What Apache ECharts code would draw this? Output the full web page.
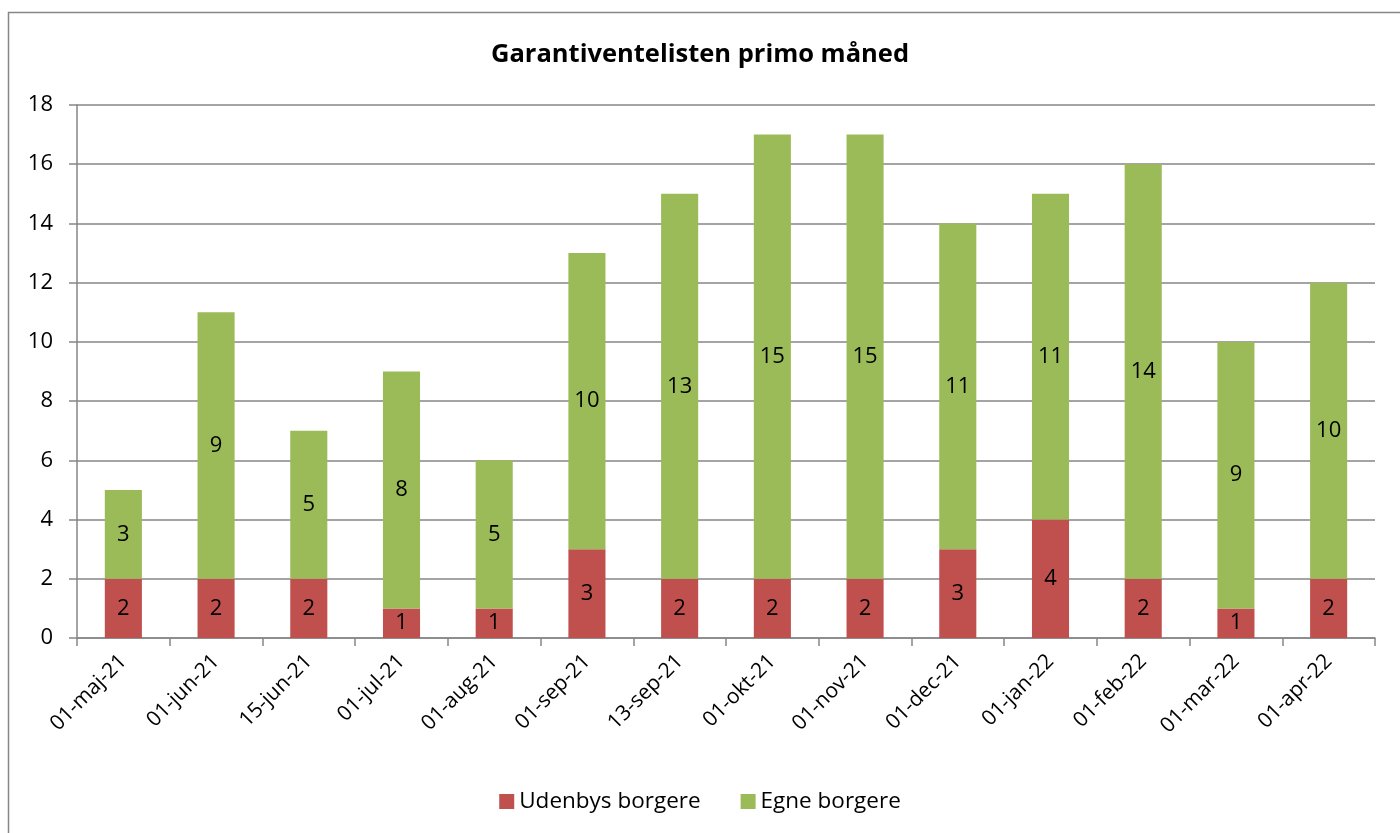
<!DOCTYPE html>
<html><head><meta charset="utf-8">
<script src="https://cdn.jsdelivr.net/npm/echarts@6/dist/echarts.min.js"></script>
<style>html,body{margin:0;padding:0;background:#fff}#c{width:1400px;height:833px}</style>
</head><body><div id="c"></div>
<script>
const categories = ['01-maj-21','01-jun-21','15-jun-21','01-jul-21','01-aug-21','01-sep-21','13-sep-21','01-okt-21','01-nov-21','01-dec-21','01-jan-22','01-feb-22','01-mar-22','01-apr-22'];
const udenbys = [2,2,2,1,1,3,2,2,2,3,4,2,1,2];
const egne = [3,9,5,8,5,10,13,15,15,11,11,14,9,10];
const seriesNames = ['Udenbys borgere','Egne borgere'];
const yTicks = {min:0, max:18, interval:2};
const FONT = '"Open Sans", sans-serif';

const chart = echarts.init(document.getElementById('c'), null, {renderer:'canvas'});
const labelStyle = {show:true, position:'inside', color:'#000', fontSize:22, fontFamily:FONT};
chart.setOption({
  animation:false,
  backgroundColor:'#fff',
  graphic:[{type:'rect', shape:{x:8.5,y:12.5,width:1420,height:860}, style:{fill:'none', stroke:'#868686', lineWidth:1.5}, silent:true}],
  title:{text:'Garantiventelisten primo måned', left:'center', top:37, textStyle:{fontFamily:FONT, fontWeight:'bold', fontSize:25.5, color:'#000'}},
  legend:{bottom:15, left:'center', itemWidth:15, itemHeight:15, itemGap:40, icon:'rect',
    textStyle:{fontFamily:FONT, fontSize:22.5, color:'#000'}, data:seriesNames},
  grid:{left:77, right:25, top:105, bottom:195, containLabel:false},
  xAxis:{type:'category', data:categories,
    axisLine:{lineStyle:{color:'#868686', width:1.5}},
    axisTick:{show:true, alignWithLabel:false, length:8, lineStyle:{color:'#868686', width:1.5}},
    axisLabel:{rotate:45, fontFamily:FONT, fontSize:21, color:'#000', margin:20, interval:0}},
  yAxis:{type:'value', min:yTicks.min, max:yTicks.max, interval:yTicks.interval,
    axisLine:{show:true, lineStyle:{color:'#868686', width:1.5}},
    axisTick:{show:true, length:8, lineStyle:{color:'#868686', width:1.5}},
    splitLine:{lineStyle:{color:'#868686', width:1.5}},
    axisLabel:{fontFamily:FONT, fontSize:22, color:'#000', margin:24}},
  series:[
    {name:seriesNames[0], type:'bar', stack:'a', data:udenbys, barWidth:'40%', itemStyle:{color:'#C0504D'}, label:labelStyle},
    {name:seriesNames[1], type:'bar', stack:'a', data:egne, barWidth:'40%', itemStyle:{color:'#9BBB59'}, label:labelStyle}
  ]
});
</script></body></html>
